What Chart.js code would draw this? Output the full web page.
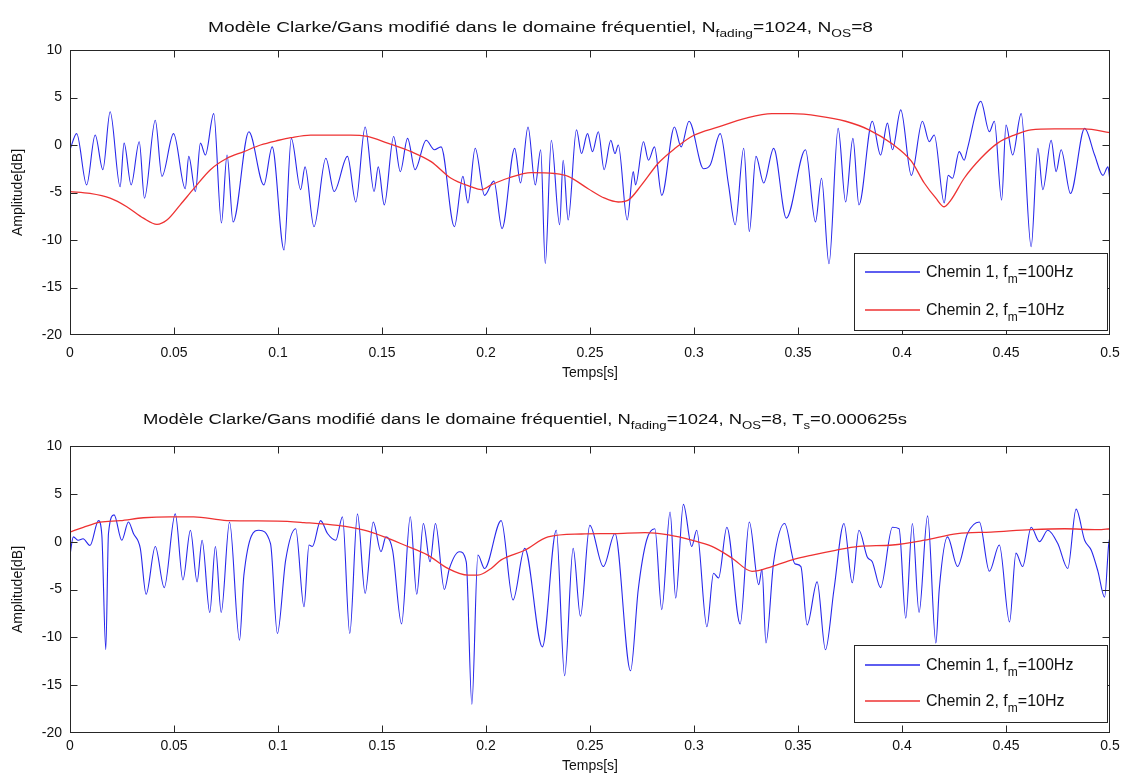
<!DOCTYPE html>
<html>
<head>
<meta charset="utf-8">
<script src="https://cdn.jsdelivr.net/npm/chart.js@4.4.1/dist/chart.umd.min.js"></script>
<style>
  body { margin: 0; background: #fff; width: 1124px; height: 780px; overflow: hidden; position: relative; }
  canvas { position: absolute; left: 0; }
</style>
</head>
<body>
<canvas id="top" width="1124" height="390" style="top:0px"></canvas>
<canvas id="bottom" width="1124" height="390" style="top:390px"></canvas>
<script>
// tick labels
const xTickLabels = ['0', '0.05', '0.1', '0.15', '0.2', '0.25', '0.3', '0.35', '0.4', '0.45', '0.5'];
const yTickLabels = ['-20', '-15', '-10', '-5', '0', '5', '10'];

// series names (text, subscript, text)
const seriesNames = [['Chemin 1, f', 'm', '=100Hz'], ['Chemin 2, f', 'm', '=10Hz']];

// titles: [text, isSubscript]
const topTitle = [['Modèle Clarke/Gans modifié dans le domaine fréquentiel, N', 0], ['fading', 1], ['=1024, N', 0], ['OS', 1], ['=8', 0]];
const bottomTitle = [['Modèle Clarke/Gans modifié dans le domaine fréquentiel, N', 0], ['fading', 1], ['=1024, N', 0], ['OS', 1], ['=8, T', 0], ['s', 1], ['=0.000625s', 0]];

// top plot, path 1 (fm = 100 Hz)
const topBlueT = [0, .0032, .0080, .0121, .0158, .0193, .0241, .0260, .0294, .0333, .0358, .0410, .0442, .0498, .0554, .0571, .0603, .0627, .0651, .0691,
  .0728, .0755, .0784, .0860, .0932, .0972, .1029, .1064, .1109, .1130, .1173, .1230, .1270, .1334, .1374, .1419, .1462, .1482, .1511, .1556,
  .1588, .1623, .1659, .1712, .1752, .1784, .1848, .1889, .1913, .1948, .1993, .2038, .2077, .2138, .2166, .2202, .2237, .2263, .2285, .2314,
  .2354, .2371, .2395, .2435, .2459, .2488, .2512, .2540, .2568, .2600, .2620, .2636, .2679, .2708, .2719, .2757, .2781, .2810, .2845, .2906,
  .2938, .2976, .3046, .3078, .3126, .3166, .3198, .3239, .3266, .3298, .3335, .3383, .3444, .3536, .3584, .3613, .3649, .3693, .3729, .3764,
  .3793, .3857, .3897, .3930, .3954, .3994, .4045, .4098, .4131, .4155, .4203, .4222, .4243, .4275, .4299, .4315, .4379, .4420, .4444, .4479,
  .4500, .4532, .4573, .4621, .4653, .4677, .4717, .4741, .4765, .4810, .4878, .4926, .4966, .4990, .5];
const topBlueDb = [-0.5, 1.2, -4.2, 1.05, -2.6, 3.5, -4.4, 0.2, -4.2, 0.35, -5.6, 2.6, -3.3, 1.2, -4.6, -1.2, -4.9, 0.2, -1.05, 3.3,
  -8.2, -1.05, -8.1, 1.4, -4.2, -0.2, -11.05, 0.7, -4.7, -2.3, -8.6, -1.4, -4.9, -1.2, -6.0, 1.9, -4.9, -2.3, -6.3, 0.9,
  -2.8, 0.7, -2.6, 0.5, -0.5, -0.2, -8.6, -3.3, -6.1, -0.35, -5.3, -3.8, -8.8, -0.35, -4.0, 1.9, -4.2, -0.5, -12.5, 0.5,
  -8.4, -1.6, -7.9, 1.6, -0.9, 1.2, -0.7, 1.4, -2.6, 0.5, -0.9, 0, -7.9, -2.8, -4.2, 0.35, -1.6, -0.2, -5.3, 1.9,
  -0.2, 2.5, -2.5, -2.1, 1.2, -4.2, -8.4, -0.35, -9.1, -1.2, -4.0, -0.35, -7.7, -0.5, -8.1, -3.5, -12.5, 1.75, -6.0, 0.7,
  -6.3, 2.5, -1.05, 2.3, -0.5, 3.7, -3.2, 2.5, 0.35, 1.05, -6.1, -3.2, -3.5, -0.7, -1.6, -0.35, 4.6, 1.4, 2.5, -5.8,
  2.1, -1.05, 3.3, -10.7, -0.35, -4.7, 0.5, -2.8, -0.5, -5.1, 1.75, -1.05, -3.2, -2.3, -3.8];

// top plot, path 2 (fm = 10 Hz)
const topRedT = [0, .0096, .0193, .0273, .0353, .0418, .0466, .053, .0595, .0675, .0755, .0836, .0916, .1004, .1061, .1157, .135, .143, .1527, .164,
  .1736, .1832, .1929, .1977, .2025, .2105, .2218, .2329, .2395, .2491, .2571, .2636, .2684, .2748, .2829, .2909, .2997, .3118, .3246, .3375,
  .3472, .36, .3729, .3841, .3954, .4045, .4107, .4163, .4203, .4235, .4299, .4379, .446, .454, .462, .4733, .4878, .5];
const topRedDb = [-4.9, -5.1, -5.6, -6.5, -7.7, -8.35, -7.9, -6.3, -4.6, -2.6, -1.4, -0.7, 0, 0.5, 0.77, 1.05, 1.05, 0.9, 0.2, -0.7,
  -1.75, -3.5, -4.4, -4.7, -4.2, -3.5, -2.9, -3.0, -3.3, -4.6, -5.6, -6.0, -5.8, -4.2, -1.9, -0.35, 1.0, 1.9, 2.8, 3.3,
  3.3, 3.05, 2.5, 1.6, 0.1, -1.7, -4.0, -5.6, -6.5, -5.8, -3.5, -1.4, 0.2, 1.05, 1.6, 1.7, 1.7, 1.3];

// bottom plot, path 1
const botBlueT = [0, .0016, .004, .0063, .0096, .0137, .0153, .0172, .0185, .0212, .0249, .0281, .0305, .0338, .0366, .041, .0453, .0506, .0543, .0579,
  .0611, .0635, .0672, .0699, .0727, .0767, .0815, .0836, .0908, .0964, .0997, .1037, .1085, .1125, .1149, .1165, .1205, .1238, .1278, .131,
  .1345, .1382, .1419, .1458, .1495, .1519, .1551, .1594, .1636, .1667, .1699, .1731, .1757, .18, .1824, .1872, .1905, .1932, .1961, .1993,
  .2073, .213, .2186, .2271, .2338, .2378, .2419, .2454, .2499, .2564, .262, .2695, .2732, .2772, .2812, .2845, .2885, .2912, .2949, .2989,
  .3013, .3062, .3094, .3118, .3158, .3222, .3266, .3311, .3327, .3346, .3383, .3436, .3485, .3514, .3544, .3592, .3632, .3673, .3721, .3761,
  .3793, .3833, .3857, .3897, .3954, .3986, .4018, .405, .4082, .4123, .4163, .4179, .4219, .4267, .4315, .4372, .442, .4468, .4517, .4548,
  .458, .4621, .4661, .4701, .4749, .4797, .4837, .4878, .491, .4942, .4974, .4994, .5];
const botBlueDb = [-1.4, 0.5, 0.15, 0.3, -0.4, 2.2, 0.7, -11.3, 0.85, 2.8, 0.15, 2.05, 0.85, -0.7, -5.5, -0.5, -4.8, 2.9, -4.0, 1.2,
  -4.2, 0.15, -7.4, -0.5, -7.4, 2.05, -10.3, -3.5, 1.2, -0.2, -9.6, -1.9, 1.35, -6.8, -0.35, -0.5, 2.2, 0.85, 0.15, 2.6,
  -9.6, 2.9, -5.4, 2.05, -1.05, 0.5, -0.9, -8.6, 2.6, -5.5, 1.9, -2.1, 1.9, -5.0, -2.8, -1.05, -2.1, -17.0, -1.4, -2.8,
  2.2, -6.1, -0.7, -11.0, 1.2, -14.0, -0.7, -7.8, 1.7, -2.6, 0.85, -13.5, -5.0, 0.15, 1.35, -7.1, 3.1, -5.9, 3.9, -0.5,
  1.2, -8.9, -3.3, -3.8, 1.5, -8.6, 2.05, -4.5, -2.9, -10.6, -2.1, 1.9, -2.3, -2.6, -8.7, -4.2, -11.3, -5.0, 1.9, -4.3,
  1.2, -1.6, -2.1, -4.8, 1.5, 1.35, -8.0, 1.9, -7.4, 2.7, -10.6, -5.0, 0.5, -2.6, 0.85, 2.05, -3.1, -0.35, -8.4, -1.2,
  -2.6, 1.5, 0, 1.2, -0.2, -2.8, 3.4, 0.15, -0.9, -3.1, -5.8, -0.2, 0.5];

// bottom plot, path 2
const botRedT = [0, .0064, .0145, .0241, .0353, .0482, .0595, .0755, .0997, .1125, .1286, .1414, .1511, .1607, .172, .1817, .1913, .1961, .2025, .2073,
  .2186, .2298, .2459, .262, .2765, .2877, .2989, .3086, .3182, .3279, .3375, .3472, .3568, .368, .3793, .3954, .4107, .4267, .4428, .4621,
  .4782, .4942, .5];
const botRedDb = [1.0, 1.5, 2.05, 2.2, 2.5, 2.6, 2.6, 2.2, 2.15, 2.0, 1.7, 1.2, 0.5, -0.35, -1.4, -2.8, -3.5, -3.5, -2.8, -1.9,
  -0.9, 0.5, 0.8, 0.85, 0.95, 0.7, 0.15, -0.5, -1.7, -3.1, -2.6, -1.9, -1.4, -0.9, -0.5, -0.35, 0.15, 0.85, 1.0, 1.25,
  1.35, 1.25, 1.35];

const FONT = '"Liberation Sans", Arial, sans-serif';
const BLUE = 'rgb(40, 40, 235)';
const RED = 'rgb(238, 50, 50)';
const AXIS = '#262626';

function pts(t, v) {
  return t.map((x, i) => ({ x: x, y: v[i] }));
}

function drawRich(ctx, parts, x, y, size, width) {
  ctx.save();
  let w = 0;
  parts.forEach(p => {
    ctx.font = (p[1] ? Math.round(size * 0.72) : size) + 'px ' + FONT;
    w += ctx.measureText(p[0]).width;
  });
  const k = width ? width / w : 1;
  ctx.translate(x, y);
  ctx.scale(k, 1);
  let cx = 0;
  parts.forEach(p => {
    ctx.font = (p[1] ? Math.round(size * 0.72) : size) + 'px ' + FONT;
    ctx.fillText(p[0], cx, p[1] ? size * 0.38 : 0);
    cx += ctx.measureText(p[0]).width;
  });
  ctx.restore();
}

const matlabAxes = {
  id: 'matlabAxes',
  afterDraw(chart, args, o) {
    const { ctx, chartArea: a, scales } = chart;
    const L = Math.round(a.left) + 0.5, R = Math.round(a.right) - 0.5;
    const T = Math.round(a.top) + 0.5, B = Math.round(a.bottom) - 0.5;
    const clampX = p => Math.min(R, Math.max(L, p));
    const clampY = p => Math.min(B, Math.max(T, p));
    ctx.save();
    ctx.strokeStyle = AXIS;
    ctx.lineWidth = 1;
    ctx.beginPath();
    scales.x.ticks.forEach(t => {
      const p = clampX(Math.round(scales.x.getPixelForValue(t.value)) + 0.5);
      ctx.moveTo(p, B); ctx.lineTo(p, B - 7);
      ctx.moveTo(p, T); ctx.lineTo(p, T + 7);
    });
    scales.y.ticks.forEach(t => {
      const p = clampY(Math.round(scales.y.getPixelForValue(t.value)) + 0.5);
      ctx.moveTo(L, p); ctx.lineTo(L + 7, p);
      ctx.moveTo(R, p); ctx.lineTo(R - 7, p);
    });
    ctx.stroke();
    ctx.strokeRect(L, T, R - L, B - T);

    // title
    ctx.fillStyle = '#111';
    ctx.textBaseline = 'alphabetic';
    drawRich(ctx, o.title, o.titleX, o.titleY, 14, o.titleW);

    // legend
    const g = o.legend;
    ctx.fillStyle = '#fff';
    ctx.fillRect(g.x0, g.y0, g.x1 - g.x0, g.y1 - g.y0);
    ctx.strokeStyle = AXIS;
    ctx.strokeRect(g.x0 + 0.5, g.y0 + 0.5, g.x1 - g.x0, g.y1 - g.y0);
    [BLUE, RED].forEach((c, i) => {
      const yy = g.rows[i];
      ctx.strokeStyle = c;
      ctx.lineWidth = 1.3;
      ctx.beginPath();
      ctx.moveTo(g.x0 + 11, yy); ctx.lineTo(g.x0 + 66, yy);
      ctx.stroke();
      ctx.fillStyle = '#111';
      const n = seriesNames[i];
      drawRich(ctx, [[n[0], 0], [n[1], 1], [n[2], 0]], g.x0 + 72, yy + 5, 16, 0);
    });
    ctx.restore();
  }
};

function makeChart(id, blue, red, cfg) {
  new Chart(document.getElementById(id), {
    type: 'line',
    data: {
      datasets: [
        { data: red, borderColor: RED, borderWidth: 1.3, pointRadius: 0, cubicInterpolationMode: 'monotone' },
        { data: blue, borderColor: BLUE, borderWidth: 1.1, pointRadius: 0, cubicInterpolationMode: 'monotone' }
      ]
    },
    options: {
      responsive: false,
      animation: false,
      events: [],
      layout: { padding: { left: 4, right: 14, top: cfg.padTop, bottom: 0 } },
      plugins: {
        legend: { display: false },
        tooltip: { enabled: false },
        matlabAxes: cfg
      },
      scales: {
        x: {
          type: 'linear', min: 0, max: 0.5,
          grid: { display: false, drawTicks: false },
          border: { display: false },
          ticks: {
            stepSize: 0.05, padding: cfg.xPad, color: '#111', maxRotation: 0,
            font: { family: FONT, size: 14 },
            callback: (v, i) => xTickLabels[i]
          },
          title: { display: true, text: 'Temps[s]', color: '#111', font: { family: FONT, size: 14 }, padding: { top: 0, bottom: cfg.xTitlePad } },
          afterFit: s => { s.height = cfg.xH; s.paddingLeft = 0; s.paddingRight = 0; }
        },
        y: {
          min: -20, max: 10,
          grid: { display: false, drawTicks: false },
          border: { display: false },
          ticks: {
            stepSize: 5, padding: 8, color: '#111',
            font: { family: FONT, size: 14 },
            callback: (v, i) => yTickLabels[i]
          },
          title: { display: true, text: 'Amplitude[dB]', color: '#111', font: { family: FONT, size: 14 }, padding: { top: 6, bottom: 0 } },
          afterFit: s => { s.width = 66; }
        }
      }
    },
    plugins: [matlabAxes]
  });
}

makeChart('top', pts(topBlueT, topBlueDb), pts(topRedT, topRedDb), {
  padTop: 50, xH: 55, xPad: 10, xTitlePad: 8,
  title: topTitle, titleX: 208, titleY: 32, titleW: 665,
  legend: { x0: 854, y0: 253, x1: 1107, y1: 330, rows: [272, 310] }
});

makeChart('bottom', pts(botBlueT, botBlueDb), pts(botRedT, botRedDb), {
  padTop: 56, xH: 47, xPad: 5, xTitlePad: 5,
  title: bottomTitle, titleX: 143, titleY: 34, titleW: 764,
  legend: { x0: 854, y0: 255, x1: 1107, y1: 332, rows: [275, 311] }
});
</script>
</body>
</html>
